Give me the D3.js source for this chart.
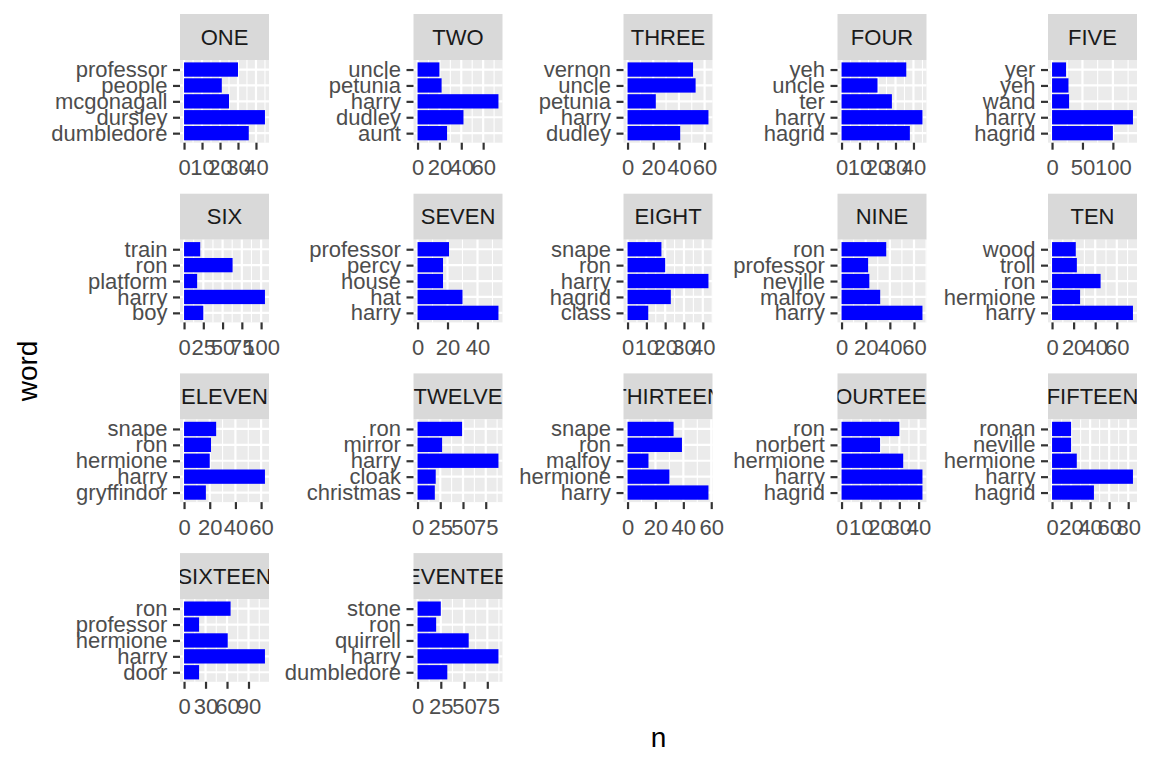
<!DOCTYPE html>
<html>
<head>
<meta charset="utf-8">
<script src="https://cdn.jsdelivr.net/npm/d3@7"></script>
<style>
  html, body { margin: 0; padding: 0; background: #ffffff; }
  svg { display: block; font-family: "Liberation Sans", Arial, sans-serif; }
</style>
</head>
<body>
<svg id="chart" width="1152" height="768"></svg>
<script>
// ---------------- data ----------------
const chapters = ["ONE","TWO","THREE","FOUR","FIVE","SIX","SEVEN","EIGHT","NINE","TEN",
  "ELEVEN","TWELVE","THIRTEEN","FOURTEEN","FIFTEEN","SIXTEEN","SEVENTEEN"];

const words = [
  ["dumbledore","dursley","mcgonagall","people","professor"],
  ["aunt","dudley","harry","petunia","uncle"],
  ["dudley","harry","petunia","uncle","vernon"],
  ["hagrid","harry","ter","uncle","yeh"],
  ["hagrid","harry","wand","yeh","yer"],
  ["boy","harry","platform","ron","train"],
  ["harry","hat","house","percy","professor"],
  ["class","hagrid","harry","ron","snape"],
  ["harry","malfoy","neville","professor","ron"],
  ["harry","hermione","ron","troll","wood"],
  ["gryffindor","harry","hermione","ron","snape"],
  ["christmas","cloak","harry","mirror","ron"],
  ["harry","hermione","malfoy","ron","snape"],
  ["hagrid","harry","hermione","norbert","ron"],
  ["hagrid","harry","hermione","neville","ronan"],
  ["door","harry","hermione","professor","ron"],
  ["dumbledore","harry","quirrell","ron","stone"]
];

const counts = [
  [36, 45, 25, 21, 30],
  [27, 42, 74, 22, 20],
  [41, 63, 22, 53, 51],
  [38, 45, 28, 20, 36],
  [100, 133, 28, 27, 23],
  [25, 105, 17, 63, 21],
  [54, 30, 17, 17, 21],
  [11, 23, 43, 20, 18],
  [67, 32, 23, 22, 37],
  [75, 26, 45, 23, 22],
  [17, 63, 20, 21, 25],
  [19, 20, 89, 27, 49],
  [58, 30, 15, 39, 33],
  [42, 42, 32, 20, 30],
  [44, 85, 26, 20, 20],
  [21, 113, 61, 21, 65],
  [32, 87, 55, 20, 25]
];

const xTicks = [
  [0,10,20,30,40],
  [0,20,40,60],
  [0,20,40,60],
  [0,10,20,30,40],
  [0,50,100],
  [0,25,50,75,100],
  [0,20,40],
  [0,10,20,30,40],
  [0,20,40,60],
  [0,20,40,60],
  [0,20,40,60],
  [0,25,50,75],
  [0,20,40,60],
  [0,10,20,30,40],
  [0,20,40,60,80],
  [0,30,60,90],
  [0,25,50,75]
];

const xTitle = "n";
const yTitle = "word";

// ---------------- layout ----------------
const colLeft = [180, 413.5, 623.5, 837.5, 1048];
const panelW = 89;
const rowTop0 = 14, rowPitch = 179.7;
const stripH = 46, panelH = 82.7;
const fontAxis = 22, fontTitle = 28;
const tickLen = 7, tickPad = 5.6;
const majorW = 2.2, minorW = 1.1;

const svg = d3.select("#chart");
const defs = svg.append("defs");

chapters.forEach((ch, i) => {
  const col = i % 5, row = Math.floor(i / 5);
  const ox = colLeft[col], oy = rowTop0 + row * rowPitch;
  const g = svg.append("g").attr("transform", `translate(${ox},${oy})`);

  // strip
  const clipId = "stripclip" + i;
  defs.append("clipPath").attr("id", clipId)
    .append("rect").attr("x", ox).attr("y", oy)
    .attr("width", panelW).attr("height", stripH);
  g.append("rect").attr("width", panelW).attr("height", stripH).attr("fill", "#d9d9d9");
  svg.append("g").attr("clip-path", `url(#${clipId})`)
    .append("text")
    .attr("x", ox + panelW / 2)
    .attr("y", oy + stripH / 2)
    .attr("text-anchor", "middle")
    .attr("dominant-baseline", "central")
    .attr("font-size", fontAxis)
    .attr("fill", "#1a1a1a")
    .text(ch);

  // panel
  const p = g.append("g").attr("transform", `translate(0,${stripH})`);
  p.append("rect").attr("width", panelW).attr("height", panelH).attr("fill", "#ebebeb");

  const vals = counts[i];
  const maxV = d3.max(vals);
  const x = d3.scaleLinear().domain([-0.05 * maxV, 1.05 * maxV]).range([0, panelW]);
  const y = d3.scalePoint().domain(words[i]).range([panelH, 0]).padding(0.6);
  const step = y.step();

  const ticks = xTicks[i];
  const st = ticks[1] - ticks[0];
  const ext = [ticks[0] - st, ...ticks, ticks[ticks.length - 1] + st];
  const minors = [];
  for (let k = 0; k < ext.length - 1; k++) minors.push((ext[k] + ext[k + 1]) / 2);
  const [d0, d1] = x.domain();
  const minorsIn = minors.filter(v => v >= d0 && v <= d1);

  p.selectAll("line.minor").data(minorsIn).join("line")
    .attr("x1", d => x(d)).attr("x2", d => x(d))
    .attr("y1", 0).attr("y2", panelH)
    .attr("stroke", "#ffffff").attr("stroke-width", minorW);
  p.selectAll("line.majorx").data(ticks).join("line")
    .attr("x1", d => x(d)).attr("x2", d => x(d))
    .attr("y1", 0).attr("y2", panelH)
    .attr("stroke", "#ffffff").attr("stroke-width", majorW);
  p.selectAll("line.majory").data(words[i]).join("line")
    .attr("x1", 0).attr("x2", panelW)
    .attr("y1", d => y(d)).attr("y2", d => y(d))
    .attr("stroke", "#ffffff").attr("stroke-width", majorW);

  p.selectAll("rect.bar").data(words[i].map((w, k) => ({ w, v: vals[k] }))).join("rect")
    .attr("class", "bar")
    .attr("x", x(0))
    .attr("width", d => x(d.v) - x(0))
    .attr("y", d => y(d.w) - 0.45 * step)
    .attr("height", 0.9 * step)
    .attr("fill", "#0000ff");

  // axes
  const ay = p.append("g").call(d3.axisLeft(y).tickSize(tickLen).tickPadding(tickPad));
  const ax = p.append("g").attr("transform", `translate(0,${panelH})`)
    .call(d3.axisBottom(x).tickValues(ticks).tickSize(tickLen).tickPadding(tickPad));
  [ay, ax].forEach(a => {
    a.select(".domain").remove();
    a.attr("font-family", null).attr("font-size", null);
    a.selectAll("line").attr("stroke", "#333333").attr("stroke-width", majorW);
    a.selectAll("text").attr("fill", "#4d4d4d").attr("font-size", fontAxis);
  });
  ax.selectAll("text").attr("dy", "0.905em");
});

// axis titles
const panelsLeft = colLeft[0], panelsRight = colLeft[4] + panelW;
svg.append("text")
  .attr("x", (panelsLeft + panelsRight) / 2)
  .attr("y", 747)
  .attr("text-anchor", "middle")
  .attr("font-size", fontTitle)
  .attr("fill", "#000000")
  .text(xTitle);

const panelsTop = rowTop0 + stripH;
const panelsBottom = rowTop0 + 3 * rowPitch + stripH + panelH;
svg.append("text")
  .attr("transform", `translate(37,${(panelsTop + panelsBottom) / 2}) rotate(-90)`)
  .attr("text-anchor", "middle")
  .attr("font-size", fontTitle)
  .attr("fill", "#000000")
  .text(yTitle);
</script>
</body>
</html>
